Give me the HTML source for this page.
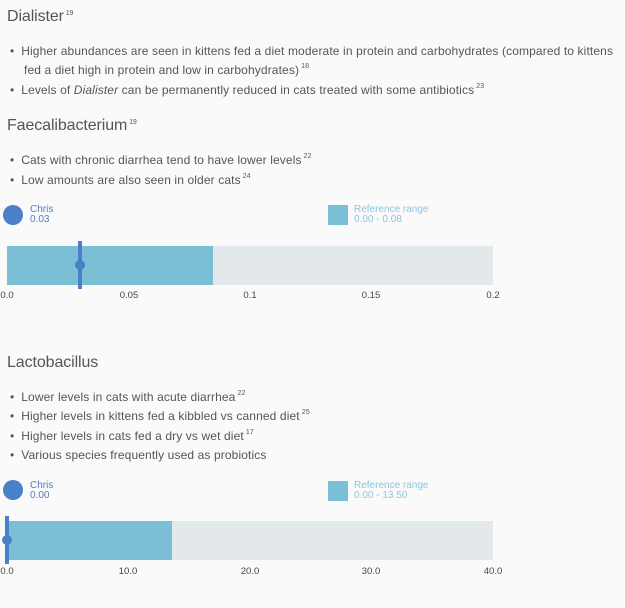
<!DOCTYPE html><html><head><style>
body{margin:0;width:625px;height:608px;background:#fafafa;font-family:"Liberation Sans",sans-serif;color:#555;position:relative;overflow:hidden}
.a{position:absolute;white-space:nowrap}
.t{font-size:16px;color:#555;letter-spacing:-0.1px}
.b{font-size:12px;color:#555;letter-spacing:0.12px}
sup{font-size:7px;vertical-align:6px}
.lg{font-size:10px;line-height:10px}
.tk{font-size:9.5px;color:#444;transform:translateX(-50%)}
</style></head><body>
<div class="a t" style="left:7px;top:8px">Dialister<sup> 19</sup></div>
<div class="a b" style="left:10px;top:44px">•&nbsp; Higher abundances are seen in kittens fed a diet moderate in protein and carbohydrates (compared to kittens</div>
<div class="a b" style="left:24px;top:63px">fed a diet high in protein and low in carbohydrates)<sup> 18</sup></div>
<div class="a b" style="left:10px;top:83px">•&nbsp; Levels of <i>Dialister</i> can be permanently reduced in cats treated with some antibiotics<sup> 23</sup></div>
<div class="a t" style="left:7px;top:117px">Faecalibacterium<sup> 19</sup></div>
<div class="a b" style="left:10px;top:153px">•&nbsp; Cats with chronic diarrhea tend to have lower levels<sup> 22</sup></div>
<div class="a b" style="left:10px;top:173px">•&nbsp; Low amounts are also seen in older cats<sup> 24</sup></div>

<div class="a" style="left:3px;top:205px;width:20px;height:20px;border-radius:50%;background:#4a7fc9"></div>
<div class="a lg" style="left:30px;top:205px;color:#5a7cb8">Chris<br>0.03</div>
<div class="a" style="left:328px;top:205px;width:20px;height:20px;background:#7bbfd6"></div>
<div class="a lg" style="left:354px;top:205px;color:#8cc6dc">Reference range<br>0.00 - 0.08</div>
<div class="a" style="left:7px;top:246px;width:486px;height:39px;background:#e3e9ea"></div>
<div class="a" style="left:7px;top:246px;width:206px;height:39px;background:#7bbfd6"></div>
<div class="a" style="left:78px;top:241px;width:4px;height:48px;background:#4a7fc9"></div>
<div class="a" style="left:75px;top:260px;width:10px;height:10px;border-radius:50%;background:#4a7fc9"></div>
<div class="a tk" style="left:7px;top:290px">0.0</div>
<div class="a tk" style="left:129px;top:290px">0.05</div>
<div class="a tk" style="left:250px;top:290px">0.1</div>
<div class="a tk" style="left:371px;top:290px">0.15</div>
<div class="a tk" style="left:493px;top:290px">0.2</div>

<div class="a t" style="left:7px;top:354px">Lactobacillus</div>
<div class="a b" style="left:10px;top:390px">•&nbsp; Lower levels in cats with acute diarrhea<sup> 22</sup></div>
<div class="a b" style="left:10px;top:409px">•&nbsp; Higher levels in kittens fed a kibbled vs canned diet<sup> 25</sup></div>
<div class="a b" style="left:10px;top:429px">•&nbsp; Higher levels in cats fed a dry vs wet diet<sup> 17</sup></div>
<div class="a b" style="left:10px;top:448px">•&nbsp; Various species frequently used as probiotics</div>

<div class="a" style="left:3px;top:480px;width:20px;height:20px;border-radius:50%;background:#4a7fc9"></div>
<div class="a lg" style="left:30px;top:481px;color:#5a7cb8">Chris<br>0.00</div>
<div class="a" style="left:328px;top:481px;width:20px;height:20px;background:#7bbfd6"></div>
<div class="a lg" style="left:354px;top:481px;color:#8cc6dc">Reference range<br>0.00 - 13.50</div>
<div class="a" style="left:7px;top:521px;width:486px;height:39px;background:#e3e9ea"></div>
<div class="a" style="left:7px;top:521px;width:165px;height:39px;background:#7bbfd6"></div>
<div class="a" style="left:5px;top:516px;width:4px;height:48px;background:#4a7fc9"></div>
<div class="a" style="left:2px;top:535px;width:10px;height:10px;border-radius:50%;background:#4a7fc9"></div>
<div class="a tk" style="left:7px;top:566px">0.0</div>
<div class="a tk" style="left:128px;top:566px">10.0</div>
<div class="a tk" style="left:250px;top:566px">20.0</div>
<div class="a tk" style="left:371px;top:566px">30.0</div>
<div class="a tk" style="left:493px;top:566px">40.0</div>
</body></html>
